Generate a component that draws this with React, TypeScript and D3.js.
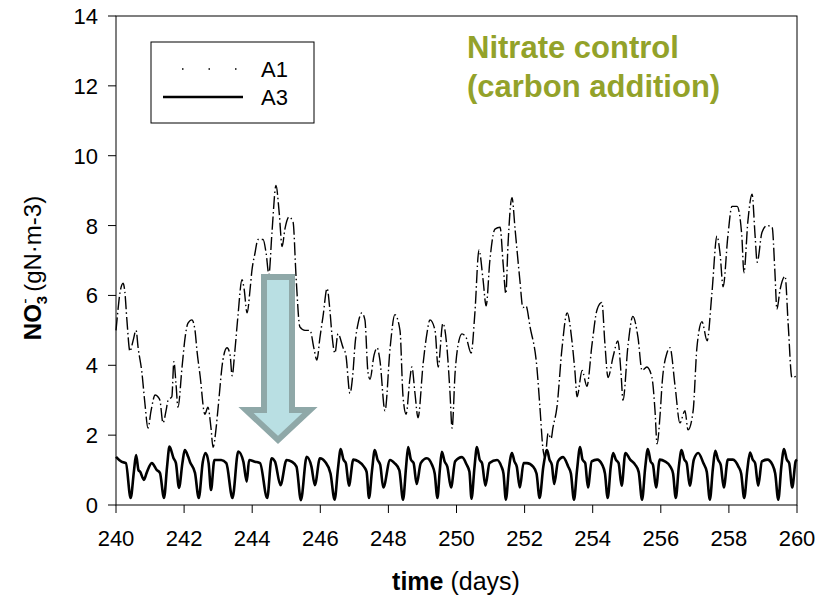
import React from 'react';
import * as d3 from 'd3';

const xTicks = [240, 242, 244, 246, 248, 250, 252, 254, 256, 258, 260];
const yTicks = [0, 2, 4, 6, 8, 10, 12, 14];
const seriesNames = ['A1', 'A3'];
const titleLines = ['Nitrate control', '(carbon addition)'];

// A1: [day, NO3]
const a1Data: [number, number][] = [
  [240.00, 5.0], [240.06, 5.6], [240.12, 6.1], [240.21, 6.35], [240.26, 6.1], [240.32, 5.3], [240.41, 4.4],
  [240.50, 4.7], [240.59, 5.0], [240.65, 4.5], [240.76, 3.8], [240.85, 2.9], [240.94, 2.2], [241.03, 2.7],
  [241.15, 3.15], [241.23, 3.1], [241.29, 3.0], [241.38, 2.35], [241.47, 2.7], [241.53, 3.0], [241.64, 3.1],
  [241.70, 4.1], [241.76, 3.5], [241.82, 2.8], [241.94, 3.95], [242.03, 4.8], [242.11, 5.2], [242.23, 5.3],
  [242.32, 5.0], [242.38, 4.4], [242.47, 3.7], [242.61, 2.6], [242.70, 2.8], [242.79, 2.2], [242.85, 1.65],
  [242.94, 2.2], [243.00, 2.8], [243.14, 4.15], [243.26, 4.5], [243.35, 4.3], [243.41, 3.7], [243.49, 4.4],
  [243.58, 5.4], [243.70, 6.45], [243.76, 6.2], [243.85, 5.5], [243.94, 6.2], [243.99, 6.7], [244.08, 7.2],
  [244.17, 7.6], [244.32, 7.6], [244.41, 7.2], [244.49, 6.6], [244.58, 7.8], [244.70, 9.15], [244.79, 8.4],
  [244.88, 7.4], [244.96, 7.9], [245.08, 8.25], [245.20, 8.1], [245.29, 6.5], [245.40, 5.1], [245.55, 5.0],
  [245.70, 5.0], [245.81, 4.5], [245.90, 4.15], [245.99, 4.8], [246.08, 5.4], [246.20, 6.2], [246.28, 5.6],
  [246.34, 4.9], [246.43, 4.35], [246.52, 4.9], [246.67, 4.5], [246.75, 4.3], [246.87, 3.2], [246.96, 3.8],
  [247.02, 4.6], [247.11, 5.2], [247.22, 5.5], [247.31, 5.3], [247.40, 3.8], [247.46, 3.6], [247.58, 4.3],
  [247.67, 4.5], [247.75, 4.15], [247.90, 2.7], [248.05, 4.5], [248.19, 5.45], [248.34, 5.0], [248.43, 3.1],
  [248.52, 2.6], [248.63, 3.6], [248.69, 3.95], [248.78, 3.2], [248.87, 2.5], [249.02, 4.05], [249.13, 4.9],
  [249.22, 5.3], [249.37, 5.0], [249.46, 3.95], [249.60, 5.2], [249.72, 4.5], [249.81, 3.2], [249.87, 2.2],
  [249.96, 3.8], [250.07, 4.7], [250.16, 4.9], [250.28, 4.8], [250.43, 4.35], [250.54, 5.5], [250.66, 7.3],
  [250.78, 6.45], [250.87, 5.7], [250.98, 7.0], [251.13, 7.9], [251.28, 7.95], [251.37, 6.9], [251.45, 6.05],
  [251.51, 7.4], [251.63, 8.8], [251.72, 7.9], [251.86, 6.45], [251.95, 5.65], [252.04, 5.7], [252.16, 5.1],
  [252.36, 3.95], [252.45, 2.8], [252.54, 1.6], [252.60, 1.35], [252.69, 2.05], [252.78, 1.9], [252.83, 2.2],
  [252.95, 2.8], [253.10, 4.5], [253.25, 5.5], [253.39, 4.7], [253.48, 3.8], [253.54, 3.1], [253.69, 3.85],
  [253.83, 3.4], [253.98, 4.6], [254.13, 5.6], [254.27, 5.8], [254.36, 4.6], [254.45, 3.65], [254.60, 4.25],
  [254.74, 4.7], [254.83, 3.8], [254.89, 3.0], [255.04, 4.6], [255.18, 5.4], [255.33, 4.8], [255.45, 3.85],
  [255.59, 3.95], [255.74, 3.65], [255.83, 2.7], [255.89, 1.75], [255.98, 2.6], [256.04, 3.5], [256.18, 4.35],
  [256.27, 4.5], [256.42, 3.4], [256.56, 2.35], [256.71, 2.7], [256.80, 2.15], [256.95, 2.7], [257.06, 4.5],
  [257.21, 5.25], [257.36, 4.7], [257.50, 6.05], [257.65, 7.7], [257.74, 7.2], [257.83, 6.25], [257.97, 7.7],
  [258.09, 8.55], [258.24, 8.55], [258.38, 7.7], [258.44, 6.65], [258.56, 8.15], [258.68, 8.9], [258.77, 7.7],
  [258.83, 6.95], [258.97, 7.8], [259.12, 8.0], [259.27, 7.95], [259.35, 6.7], [259.41, 5.6], [259.50, 6.15],
  [259.65, 6.55], [259.74, 5.2], [259.85, 3.65], [260.00, 3.7],
];

// A3: [day, NO3]
const a3Data: [number, number][] = [
  [240.00, 1.38], [240.16, 1.24], [240.29, 1.2], [240.43, 0.2], [240.53, 1.0], [240.59, 1.43], [240.66, 1.0],
  [240.71, 0.95], [240.82, 0.72], [240.90, 0.92], [241.05, 1.2], [241.20, 1.0], [241.29, 0.92], [241.41, 0.2],
  [241.50, 1.1], [241.57, 1.67], [241.69, 1.34], [241.76, 1.2], [241.85, 0.49], [241.95, 1.2], [242.02, 1.57],
  [242.12, 1.38], [242.17, 1.24], [242.32, 0.92], [242.43, 0.2], [242.55, 1.24], [242.63, 1.49], [242.72, 1.2],
  [242.79, 0.43], [242.89, 1.29], [243.09, 1.29], [243.24, 1.2], [243.42, 0.2], [243.59, 1.53], [243.74, 1.24],
  [243.84, 0.67], [243.91, 1.29], [244.08, 1.24], [244.23, 1.2], [244.44, 0.2], [244.57, 1.34], [244.67, 1.24],
  [244.83, 0.57], [245.01, 1.29], [245.16, 1.24], [245.30, 1.1], [245.43, 0.14], [245.60, 1.38], [245.74, 1.1],
  [245.84, 0.57], [245.99, 1.34], [246.14, 1.24], [246.30, 0.9], [246.42, 0.15], [246.52, 1.05], [246.60, 1.6],
  [246.68, 1.3], [246.75, 1.2], [246.84, 0.55], [246.97, 1.3], [247.12, 1.25], [247.28, 1.1], [247.36, 0.95],
  [247.43, 0.2], [247.52, 1.0], [247.60, 1.57], [247.68, 1.3], [247.76, 1.15], [247.85, 0.5], [248.05, 1.29],
  [248.18, 1.2], [248.32, 1.0], [248.43, 0.15], [248.52, 1.1], [248.58, 1.66], [248.66, 1.3], [248.74, 1.2],
  [248.83, 0.6], [248.95, 1.2], [249.13, 1.34], [249.28, 1.15], [249.36, 0.9], [249.44, 0.2], [249.51, 1.0],
  [249.57, 1.52], [249.65, 1.25], [249.73, 1.1], [249.84, 0.5], [249.96, 1.25], [250.16, 1.37], [250.30, 1.15],
  [250.38, 0.95], [250.44, 0.18], [250.53, 1.1], [250.60, 1.66], [250.68, 1.3], [250.75, 1.2], [250.85, 0.55],
  [250.97, 1.2], [251.19, 1.29], [251.32, 1.1], [251.38, 0.9], [251.45, 0.15], [251.54, 1.05], [251.63, 1.49],
  [251.70, 1.25], [251.77, 1.1], [251.86, 0.5], [251.97, 1.2], [252.07, 1.2], [252.25, 1.1], [252.35, 0.9],
  [252.44, 0.2], [252.55, 1.1], [252.66, 1.57], [252.73, 1.3], [252.80, 1.15], [252.87, 0.6], [252.98, 1.25],
  [253.13, 1.37], [253.28, 1.1], [253.36, 0.9], [253.45, 0.15], [253.54, 1.0], [253.63, 1.66], [253.70, 1.3],
  [253.78, 1.2], [253.86, 0.5], [253.97, 1.25], [254.13, 1.3], [254.28, 1.15], [254.36, 0.9], [254.44, 0.2],
  [254.53, 1.1], [254.60, 1.49], [254.68, 1.3], [254.76, 1.2], [254.85, 0.55], [254.96, 1.49], [255.10, 1.3],
  [255.25, 1.15], [255.35, 0.95], [255.45, 0.15], [255.54, 1.05], [255.62, 1.6], [255.70, 1.25], [255.77, 1.15],
  [255.86, 0.5], [255.97, 1.3], [256.12, 1.25], [256.28, 1.1], [256.36, 0.9], [256.44, 0.2], [256.53, 1.1],
  [256.61, 1.57], [256.69, 1.3], [256.76, 1.2], [256.85, 0.55], [256.97, 1.3], [257.10, 1.49], [257.25, 1.2],
  [257.35, 0.95], [257.44, 0.15], [257.53, 1.05], [257.60, 1.55], [257.68, 1.3], [257.76, 1.15], [257.85, 0.5],
  [257.97, 1.3], [258.12, 1.3], [258.28, 1.1], [258.36, 0.9], [258.45, 0.2], [258.54, 1.0], [258.62, 1.5],
  [258.70, 1.3], [258.77, 1.2], [258.86, 0.55], [258.97, 1.25], [259.13, 1.3], [259.28, 1.15], [259.36, 0.9],
  [259.45, 0.15], [259.54, 1.1], [259.62, 1.6], [259.70, 1.3], [259.77, 1.2], [259.86, 0.5], [259.96, 1.25],
  [260.00, 1.3],
];

const W = 832;
const H = 600;
const M = { left: 116, right: 797, top: 16, bottom: 505 };
const FONT = '"Liberation Sans", Arial, Helvetica, sans-serif';
const TITLE_COLOR = '#93a22a';

export default function App() {
  const x = d3.scaleLinear().domain([240, 260]).range([M.left, M.right]);
  const y = d3.scaleLinear().domain([0, 14]).range([M.bottom, M.top]);
  const line = d3
    .line<[number, number]>()
    .x((d) => x(d[0]))
    .y((d) => y(d[1]))
    .curve(d3.curveMonotoneX);

  const arrowPath = 'M264,277 L292,277 L292,410 L310,410 L278,440 L246,410 L264,410 Z';

  return (
    <svg
      width={W}
      height={H}
      style={{ position: 'absolute', left: 0, top: 0, background: '#fff' }}
      fontFamily={FONT}
    >
      <rect x={0} y={0} width={W} height={H} fill="#fff" />
      {/* data lines */}
      <path d={line(a1Data) || ''} fill="none" stroke="#000" strokeWidth={1.4} strokeDasharray="13,3,1.5,3" />
      <path d={line(a3Data) || ''} fill="none" stroke="#000" strokeWidth={2.6} strokeLinejoin="round" />

      {/* frame */}
      <rect x={M.left} y={M.top} width={M.right - M.left} height={M.bottom - M.top} fill="none" stroke="#000" strokeWidth={1} />

      {/* x axis */}
      {xTicks.map((t) => (
        <g key={'x' + t}>
          <line x1={x(t)} x2={x(t)} y1={M.bottom} y2={M.bottom + 8} stroke="#000" />
          <text x={x(t)} y={546} fontSize={22} textAnchor="middle" fill="#000">
            {t}
          </text>
        </g>
      ))}
      {/* y axis */}
      {yTicks.map((t) => (
        <g key={'y' + t}>
          <line x1={M.left - 8} x2={M.left} y1={y(t)} y2={y(t)} stroke="#000" />
          <text x={98} y={y(t) + 8} fontSize={22} textAnchor="end" fill="#000">
            {t}
          </text>
        </g>
      ))}

      {/* axis titles */}
      <text x={456} y={590} fontSize={25} textAnchor="middle" fill="#000">
        <tspan fontWeight="bold">time</tspan>
        <tspan> (days)</tspan>
      </text>
      <text transform="translate(41,268) rotate(-90)" fontSize={24} textAnchor="middle" fill="#000">
        <tspan fontWeight="bold">NO</tspan>
        <tspan fontWeight="bold" fontSize={15} dy={6}>3</tspan>
        <tspan fontSize={16} dy={-17} dx={-8}>-</tspan>
        <tspan dy={11}> (gN·m-3)</tspan>
      </text>

      {/* title */}
      {titleLines.map((t, i) => (
        <text key={t} x={467} y={58 + i * 39} fontSize={31} fontWeight="bold" fill={TITLE_COLOR}>
          {t}
        </text>
      ))}

      {/* legend */}
      <rect x={151} y={42} width={163} height={81} fill="#fff" stroke="#000" strokeWidth={1} />
      <line x1={182} x2={240} y1={69} y2={69} stroke="#000" strokeWidth={1.5} strokeDasharray="1.5,25" />
      <text x={261} y={77} fontSize={22} fill="#000">{seriesNames[0]}</text>
      <line x1={163} x2={243} y1={97} y2={97} stroke="#000" strokeWidth={2.6} />
      <text x={261} y={105} fontSize={22} fill="#000">{seriesNames[1]}</text>

      {/* arrow */}
      <path d={arrowPath} fill="#b9dfe3" stroke="#8fa8a8" strokeWidth={6} strokeLinejoin="miter" />
    </svg>
  );
}
